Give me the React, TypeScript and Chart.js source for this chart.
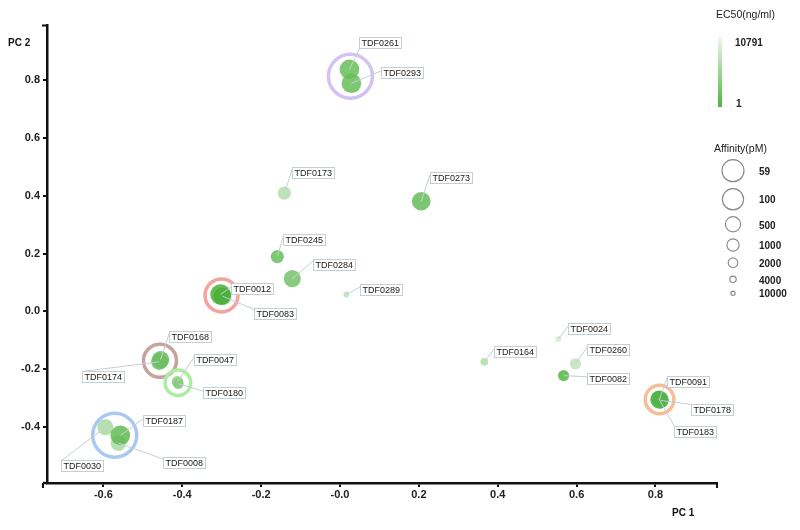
import React, { useEffect, useRef } from 'react';
import { Chart, registerables } from 'chart.js';

Chart.register(...registerables);

// ---------- data ----------
const compounds = ['TDF0261', 'TDF0293', 'TDF0173', 'TDF0273', 'TDF0245', 'TDF0284', 'TDF0289', 'TDF0012', 'TDF0083', 'TDF0168', 'TDF0174', 'TDF0047', 'TDF0180', 'TDF0030', 'TDF0008', 'TDF0187', 'TDF0164', 'TDF0024', 'TDF0260', 'TDF0082', 'TDF0091', 'TDF0178', 'TDF0183'];
const pc1 = [0.024, 0.029, -0.141, 0.206, -0.159, -0.121, 0.016, -0.303, -0.298, -0.455, -0.458, -0.412, -0.41, -0.595, -0.562, -0.557, 0.366, 0.554, 0.597, 0.567, 0.81, 0.813, 0.808];
const pc2 = [0.838, 0.79, 0.409, 0.381, 0.189, 0.113, 0.058, 0.058, 0.052, -0.168, -0.175, -0.244, -0.251, -0.402, -0.457, -0.43, -0.175, -0.096, -0.182, -0.223, -0.306, -0.309, -0.302];
const ec50 = [6, 6, 400, 5, 6, 12, 500, 1, 1, 5, 8, 40, 30, 200, 200, 4, 300, 3000, 700, 2, 1, 2, 2];
const affinity = [150, 150, 800, 200, 800, 300, 5000, 120, 260, 280, 350, 1200, 1500, 400, 450, 150, 3000, 4000, 1300, 1300, 220, 400, 500];

// clusters (rings)
const ringGroups = [
  ['TDF0261', 'TDF0293'],
  ['TDF0012', 'TDF0083'],
  ['TDF0168', 'TDF0174'],
  ['TDF0047', 'TDF0180'],
  ['TDF0187', 'TDF0008', 'TDF0030'],
  ['TDF0091', 'TDF0178', 'TDF0183'],
];

const xTickValues = [-0.6, -0.4, -0.2, 0, 0.2, 0.4, 0.6, 0.8];
const xTickLabels = ['-0.6', '-0.4', '-0.2', '-0.0', '0.2', '0.4', '0.6', '0.8'];
const yTickValues = [-0.4, -0.2, 0, 0.2, 0.4, 0.6, 0.8];
const yTickLabels = ['-0.4', '-0.2', '0.0', '0.2', '0.4', '0.6', '0.8'];

const ec50Min = 1;
const ec50Max = 10791;
const affinityLegend = [59, 100, 500, 1000, 2000, 4000, 10000];

// ---------- styles / layout ----------
const FONT = '"Liberation Sans", Arial, Helvetica, sans-serif';
const sizeRadii = [11, 10.6, 7.6, 6.1, 4.8, 3.2, 2.1];
const ringColors = ['#d3c3f4', '#f2a59f', '#c6a3a0', '#aaeea0', '#a9c9f2', '#f7be95'];
const ringRadii = [22, 16.5, 16.5, 12.8, 22, 14.3];
const lowColor = [72, 176, 56];
const highColor = [240, 248, 238];
const labelColor = '#c2cfd8';

// label box offsets (px, relative to point) and leader anchor on box (fraction)
const labelLayout: Record<string, [number, number, number, number]> = {
  TDF0261: [10, -32, 0, 1],
  TDF0293: [30, -16, 0, 0.3],
  TDF0173: [8, -26, 0, 0.1],
  TDF0273: [9, -29, 0, 0.1],
  TDF0245: [6, -23, 0, 0.1],
  TDF0284: [21, -20, 0, 0.1],
  TDF0289: [14, -11, 0, 0.2],
  TDF0012: [10, -12, 0, 0.3],
  TDF0083: [32, 12, 0, 0.1],
  TDF0168: [8, -29, 0, 0.1],
  TDF0174: [-77, 9, 0, 0],
  TDF0047: [16, -28, 0, 0.2],
  TDF0180: [25, 3, 0, 0.35],
  TDF0187: [23, -20, 0, 0.3],
  TDF0008: [45, 14, 0, 0.15],
  TDF0030: [-44, 33, 0, 0],
  TDF0164: [10, -16, 0, 0.2],
  TDF0024: [10, -16, 0, 0.2],
  TDF0260: [12, -20, 0, 0.2],
  TDF0082: [23, -3, 0, 0.3],
  TDF0091: [8, -24, 0, 0],
  TDF0178: [30, 4, 0, 0],
  TDF0183: [15, 28, 0, 0],
};

function radiusFor(a: number): number {
  const la = Math.log10(a);
  const ls = affinityLegend.map((v) => Math.log10(v));
  if (la <= ls[0]) return sizeRadii[0];
  for (let i = 0; i < ls.length - 1; i++) {
    if (la <= ls[i + 1]) {
      const t = (la - ls[i]) / (ls[i + 1] - ls[i]);
      return sizeRadii[i] + t * (sizeRadii[i + 1] - sizeRadii[i]);
    }
  }
  return sizeRadii[sizeRadii.length - 1];
}

function colorFor(v: number, alpha: number): string {
  const t = Math.max(0, Math.min(1, Math.log(v / ec50Min) / Math.log(ec50Max / ec50Min)));
  const c = lowColor.map((l, i) => Math.round(l + t * (highColor[i] - l)));
  return `rgba(${c[0]},${c[1]},${c[2]},${alpha})`;
}

const points = compounds.map((_, i) => ({ x: pc1[i], y: pc2[i] }));
const ringCenters = ringGroups.map((g) => {
  const idx = g.map((n) => compounds.indexOf(n));
  return {
    x: idx.reduce((s, i) => s + pc1[i], 0) / idx.length,
    y: idx.reduce((s, i) => s + pc2[i], 0) / idx.length,
  };
});

const overlayPlugin = {
  id: 'overlay',
  afterDraw(chart: any) {
    const ctx = chart.ctx as CanvasRenderingContext2D;
    const xs = chart.scales.x;
    const ys = chart.scales.y;
    const area = chart.chartArea;
    ctx.save();

    // axis end ticks
    ctx.strokeStyle = '#111';
    ctx.lineWidth = 2.5;
    ctx.beginPath();
    ctx.moveTo(area.left - 4, area.bottom);
    ctx.lineTo(area.left, area.bottom);
    ctx.stroke();
    ctx.lineWidth = 2;
    ctx.beginPath();
    ctx.moveTo(area.left - 4, area.bottom);
    ctx.lineTo(area.left - 4, area.bottom + 5);
    ctx.moveTo(area.right, area.bottom);
    ctx.lineTo(area.right, area.bottom + 5);
    ctx.moveTo(area.left, area.top);
    ctx.lineTo(area.left - 5, area.top);
    ctx.stroke();

    // axis titles
    ctx.fillStyle = '#111';
    ctx.font = `bold 10px ${FONT}`;
    ctx.textBaseline = 'middle';
    ctx.textAlign = 'left';
    ctx.fillText('PC 2', 8, 43);
    ctx.fillText('PC 1', 672, 513);

    // labels with leader lines
    ctx.font = `9px ${FONT}`;
    compounds.forEach((name, i) => {
      const lay = labelLayout[name];
      if (!lay) return;
      const px = xs.getPixelForValue(pc1[i]);
      const py = ys.getPixelForValue(pc2[i]);
      const w = Math.round(ctx.measureText(name).width + 4);
      const h = 11;
      const bx = Math.round(px + lay[0]) + 0.5;
      const by = Math.round(py + lay[1]) + 0.5;
      ctx.strokeStyle = labelColor;
      ctx.lineWidth = 1;
      ctx.beginPath();
      ctx.moveTo(px, py);
      ctx.lineTo(bx + lay[2] * w, by + lay[3] * h);
      ctx.stroke();
      ctx.fillStyle = '#ffffff';
      ctx.fillRect(bx, by, w, h);
      ctx.strokeRect(bx, by, w, h);
      ctx.fillStyle = '#1a1a1a';
      ctx.textAlign = 'left';
      ctx.textBaseline = 'middle';
      ctx.fillText(name, bx + 2, by + h / 2 + 0.5);
    });

    // EC50 legend
    ctx.fillStyle = '#222';
    ctx.font = `10.5px ${FONT}`;
    ctx.textAlign = 'left';
    ctx.textBaseline = 'middle';
    ctx.fillText('EC50(ng/ml)', 716, 15);
    const grad = ctx.createLinearGradient(0, 37, 0, 107);
    grad.addColorStop(0, colorFor(ec50Max, 1));
    grad.addColorStop(1, colorFor(ec50Min, 0.95));
    ctx.fillStyle = grad;
    ctx.fillRect(718, 37, 4, 70);
    ctx.fillStyle = '#222';
    ctx.font = `bold 10px ${FONT}`;
    ctx.fillText(String(ec50Max), 735, 43);
    ctx.fillText(String(ec50Min), 736, 104);

    // Affinity legend
    ctx.font = `10.5px ${FONT}`;
    ctx.fillText('Affinity(pM)', 714, 149);
    const cy = [170.7, 199.3, 224.3, 245, 262.7, 279.3, 293.3];
    const ly = [172.5, 200.5, 226, 246, 264.5, 281.5, 294];
    affinityLegend.forEach((a, i) => {
      const r = radiusFor(a);
      ctx.strokeStyle = '#8c8c8c';
      ctx.lineWidth = 1.2;
      ctx.beginPath();
      ctx.arc(733, cy[i], r, 0, Math.PI * 2);
      ctx.stroke();
      ctx.fillStyle = '#222';
      ctx.font = `bold 10px ${FONT}`;
      ctx.fillText(String(a), 759, ly[i]);
    });

    ctx.restore();
  },
};

export default function App() {
  const ref = useRef<HTMLCanvasElement>(null);
  useEffect(() => {
    const canvas = ref.current;
    if (!canvas) return;
    const chart = new Chart(canvas, {
      type: 'scatter',
      data: {
        datasets: [
          {
            label: 'clusters',
            data: ringCenters,
            pointRadius: ringRadii,
            pointHoverRadius: ringRadii,
            pointBackgroundColor: 'rgba(0,0,0,0)',
            pointBorderColor: ringColors,
            pointBorderWidth: 3.5,
            pointHoverBorderWidth: 3.5,
          },
          {
            label: 'compounds',
            data: points,
            pointRadius: affinity.map(radiusFor),
            pointHoverRadius: affinity.map(radiusFor),
            pointBackgroundColor: ec50.map((v) => colorFor(v, 0.85)),
            pointBorderWidth: 0,
            pointHoverBorderWidth: 0,
          },
        ],
      },
      options: {
        responsive: false,
        animation: false,
        events: [],
        layout: { padding: { left: 0, right: 83, top: 22, bottom: 0 } },
        plugins: { legend: { display: false }, tooltip: { enabled: false } },
        scales: {
          x: {
            type: 'linear',
            min: -0.743,
            max: 0.956,
            afterFit: (s: any) => { s.height = 47; },
            afterBuildTicks: (s: any) => { s.ticks = xTickValues.map((v) => ({ value: v })); },
            grid: { drawOnChartArea: false, drawTicks: true, tickLength: 4, color: '#111', lineWidth: 2 },
            border: { display: true, color: '#111', width: 2.5 },
            ticks: {
              callback: (_v: any, i: number) => xTickLabels[i],
              font: { family: FONT, size: 11, weight: 'bold' },
              color: '#222',
              padding: 1,
              maxRotation: 0,
              autoSkip: false,
            },
          },
          y: {
            type: 'linear',
            min: -0.595,
            max: 0.99,
            afterFit: (s: any) => { s.width = 47; },
            afterBuildTicks: (s: any) => { s.ticks = yTickValues.map((v) => ({ value: v })); },
            grid: { drawOnChartArea: false, drawTicks: true, tickLength: 4, color: '#111', lineWidth: 2 },
            border: { display: true, color: '#111', width: 2.5 },
            ticks: {
              callback: (_v: any, i: number) => yTickLabels[i],
              font: { family: FONT, size: 11, weight: 'bold' },
              color: '#222',
              padding: 3,
              autoSkip: false,
            },
          },
        },
      },
      plugins: [overlayPlugin],
    } as any);
    return () => chart.destroy();
  }, []);
  return (
    <div style={{ position: 'absolute', left: 0, top: 0, width: 800, height: 530, background: '#fff' }}>
      <canvas ref={ref} width={800} height={530} style={{ display: 'block', width: 800, height: 530 }} />
    </div>
  );
}
